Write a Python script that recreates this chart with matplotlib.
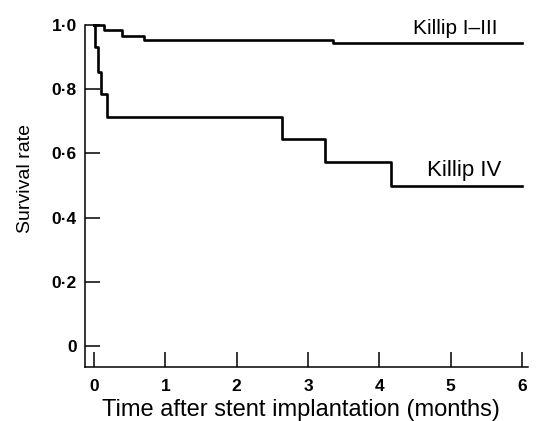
import numpy as np
import matplotlib
matplotlib.use('Agg')
import matplotlib.pyplot as plt
from matplotlib.ticker import FuncFormatter

# Kaplan-Meier steps
months_i_iii = [0, 0.14, 0.39, 0.70, 3.35, 6.0]
surv_i_iii = [1.0, 0.984, 0.966, 0.953, 0.944, 0.944]

months_iv = [0, 0.02, 0.06, 0.095, 0.18, 2.64, 3.24, 4.16, 6.0]
surv_iv = [1.0, 0.930, 0.855, 0.785, 0.714, 0.645, 0.572, 0.500, 0.500]

x_ticks = [0, 1, 2, 3, 4, 5, 6]
y_ticks = [0, 0.2, 0.4, 0.6, 0.8, 1.0]

plt.rcParams['font.family'] = ['Liberation Sans', 'DejaVu Sans']

fig = plt.figure(figsize=(5.37, 4.21), dpi=100)
ax = fig.add_axes([0.1583, 0.1283, 0.825, 0.8124])

ax.step(months_i_iii, surv_i_iii, where='post', color='black', lw=1.9, clip_on=False)
ax.step(months_iv, surv_iv, where='post', color='black', lw=1.9, clip_on=False)

ax.text(4.47, 0.99, 'Killip I\u2013III', fontsize=15, va='center', ha='left')
ax.text(4.67, 0.548, 'Killip IV', fontsize=16, va='center', ha='left')

ax.set_xlim(-0.126, 6.084)
ax.set_ylim(-0.065, 1.0)
ax.set_xticks(x_ticks)
ax.set_yticks(y_ticks)
ax.xaxis.set_major_formatter(FuncFormatter(lambda v, p: f'{v:g}'))
ax.yaxis.set_major_formatter(FuncFormatter(lambda v, p: '0' if v == 0 else f'{v:.1f}'.replace('.', '\u00b7')))

for s in ['top', 'right']:
    ax.spines[s].set_visible(False)
for s in ['left', 'bottom']:
    ax.spines[s].set_linewidth(1.1)

ax.tick_params(direction='in', length=10.5, width=1.1, labelsize=12.5)
ax.tick_params(axis='y', pad=6)
ax.tick_params(axis='x', pad=9)
for lab in ax.get_xticklabels() + ax.get_yticklabels():
    lab.set_fontweight('bold')

fig.text(0.56, 0.026, 'Time after stent implantation (months)', fontsize=17,
         ha='center', va='center')
fig.text(0.048, 0.575, 'Survival rate', fontsize=14, rotation=90,
         ha='center', va='center')

fig.savefig('out.png', dpi=100)
